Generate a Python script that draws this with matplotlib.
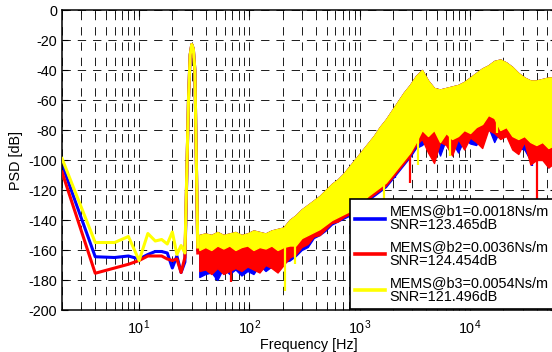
import matplotlib
matplotlib.use('Agg')
import matplotlib.pyplot as plt
from matplotlib.lines import Line2D
from matplotlib.ticker import LogLocator, FixedLocator, NullFormatter

plt.rcParams['font.family'] = ['Liberation Sans', 'DejaVu Sans']
plt.rcParams['axes.unicode_minus'] = False
plt.rcParams['lines.scale_dashes'] = False

# ---------------- data ----------------
# clean low-frequency part (Hz, dB)
f_low = [2, 4, 6, 8, 10, 12, 14, 16, 18, 20, 22, 24, 26, 28, 29, 30, 31, 32, 33, 34]
blue_low = [-103, -164.5, -165, -164, -166, -163, -161, -161, -162, -172, -164, -175, -168,
            -60, -30, -23, -26, -40, -100, -160]
red_low = [-108, -175.5, -172, -169.5, -167, -164, -164, -164, -166, -167, -166, -175, -165,
           -60, -30, -23, -26, -40, -100, -162]
yellow_low = [-99, -155, -155, -151, -167, -149, -154, -153, -156, -148, -163, -157, -162,
              -60, -30, -23, -26, -40, -100, -158]

# noisy band part: frequency grid and envelopes (dB)
f_band = [35.1, 39.8, 45.1, 51.2, 58.0, 65.8, 74.6, 84.6, 95.9, 108.7, 123.3, 139.8, 158.5,
          179.7, 203.7, 231, 262, 297, 337, 382, 433, 491, 557, 631, 715, 811, 920, 1043,
          1182, 1341, 1520, 1723, 1954, 2215, 2512, 2848, 3229, 3661, 4151, 4707, 5337,
          6051, 6861, 7779, 8820, 10000, 11340, 12860, 14580, 16530, 18740, 21250, 24090,
          27320, 30970, 35120, 39810, 45140, 51180, 58030, 65800]
band_upper = [-150, -149, -150, -148, -150, -149, -148, -150, -149, -147, -148, -149, -147,
              -146, -145, -140, -137, -133, -130, -127, -124, -120, -116, -113, -109, -104,
              -99, -94, -89, -84, -78, -73, -67, -61, -55, -50, -44, -40, -47, -52, -53,
              -52, -51, -50, -48, -45, -42, -39, -37, -34, -33, -35, -38, -42, -45, -47,
              -47, -46, -45, -45, -45]
yellow_lower = [-160, -158, -160, -157, -159, -157, -160, -158, -157, -160, -158, -159, -157,
                -160, -158, -157, -157, -152, -150, -148, -146, -143, -140, -138, -136, -134,
                -131, -128, -124, -121, -118, -115, -110, -105, -100, -95, -88, -80, -84, -80,
                -88, -82, -86, -84, -80, -82, -78, -76, -70, -72, -80, -78, -84, -86, -84,
                -88, -90, -88, -92, -90, -90]
blue_lower = [-178, -176, -175, -180, -172, -176, -173, -177, -174, -176, -170, -174, -171,
              -173, -168, -167, -164, -160, -158, -152, -150, -147, -143, -141, -139, -137,
              -134, -131, -127, -124, -121, -118, -113, -108, -103, -98, -92, -90, -86, -86,
              -97, -86, -88, -95, -86, -89, -90, -82, -78, -88, -80, -84, -86, -92, -93,
              -100, -94, -96, -105, -98, -98]
red_lower = [-174, -173, -176, -172, -176, -174, -172, -174, -171, -173, -175, -170, -172,
             -175, -170, -165, -163, -158, -156, -151, -150, -146, -142, -141, -138, -136,
             -133, -130, -126, -123, -120, -117, -112, -107, -102, -97, -90, -86, -95, -102,
             -88, -90, -97, -86, -93, -85, -88, -92, -80, -82, -86, -84, -93, -96, -88,
             -103, -100, -100, -105, -102, -100]

# deep narrow dips (Hz, top dB, bottom dB)
yellow_spike_f = [212, 256, 1652, 3366, 6579, 17590]
yellow_spike_top = [-158, -157, -115, -84, -84, -72]
yellow_spike_bot = [-187, -169, -135, -103, -97, -82]
red_spike_f = [68.6, 2848, 40640]
red_spike_top = [-172, -97, -100]
red_spike_bot = [-181, -115, -132]
blue_spike_f = [50.1, 2100, 36620]
blue_spike_top = [-172, -105, -95]
blue_spike_bot = [-180, -112, -104]

labels = ['MEMS@b1=0.0018Ns/m\nSNR=123.465dB',
          'MEMS@b2=0.0036Ns/m\nSNR=124.454dB',
          'MEMS@b3=0.0054Ns/m\nSNR=121.496dB']
colors = ['#0000ff', '#ff0000', '#ffff00']

# ---------------- figure ----------------
W, H = 552, 352
fig = plt.figure(figsize=(W / 100, H / 100), dpi=100)
ax = fig.add_axes([62 / W, 1 - 310 / H, (556 - 62) / W, 300 / H])

series = [
    (f_low, blue_low, blue_lower, blue_spike_f, blue_spike_top, blue_spike_bot),
    (f_low, red_low, red_lower, red_spike_f, red_spike_top, red_spike_bot),
    (f_low, yellow_low, yellow_lower, yellow_spike_f, yellow_spike_top, yellow_spike_bot),
]
for k, (fl, yl, lo, sf, st, sb) in enumerate(series):
    c = colors[k]
    z = 2 + k
    ax.plot(fl, yl, color=c, lw=2.2, zorder=z, solid_joinstyle='round')
    ax.fill_between(f_band, lo, band_upper, facecolor=c, edgecolor=c, lw=1.0, zorder=z)
    ax.vlines(sf, sb, st, colors=c, lw=1.6, zorder=z)

ax.set_xscale('log')
ax.set_xlim(2, 6e4)
ax.set_ylim(-200, 0)
ax.set_yticks(range(-200, 1, 20))
ax.xaxis.set_major_locator(FixedLocator([10, 100, 1000, 10000]))
ax.xaxis.set_minor_locator(LogLocator(base=10, subs=range(2, 10)))
ax.xaxis.set_minor_formatter(NullFormatter())

ax.tick_params(axis='both', which='both', direction='in', top=True, right=True,
               labelsize=10.4, colors='black')
ax.tick_params(which='major', length=4, width=0.8)
ax.tick_params(which='minor', length=2.5, width=0.6)
ax.tick_params(axis='x', pad=6)

ax.grid(True, which='major', axis='both', color='0.1', lw=0.7, linestyle=(0, (6, 5)), zorder=0)
ax.grid(True, which='minor', axis='x', color='0.1', lw=0.7, linestyle=(0, (6, 5)), zorder=0)
ax.set_axisbelow(True)

for s in ax.spines.values():
    s.set_linewidth(1.1)

ax.set_xlabel('Frequency [Hz]', fontsize=10.4, labelpad=1)
ax.set_ylabel('PSD [dB]', fontsize=10.4, labelpad=4)

handles = [Line2D([], [], color=c, lw=2.6) for c in colors]
leg = ax.legend(handles, labels, loc='upper left', bbox_to_anchor=(350 / W, 1 - 199 / H),
                bbox_transform=fig.transFigure, fontsize=10.4, frameon=True, fancybox=False,
                framealpha=1, edgecolor='black', borderpad=0.35, labelspacing=0.55,
                handlelength=2.1, handletextpad=0.3, borderaxespad=0)
leg.get_frame().set_linewidth(1.2)
leg.set_zorder(10)
for t in leg.get_texts():
    t.set_linespacing(1.0)

fig.savefig('out.png', dpi=100)
